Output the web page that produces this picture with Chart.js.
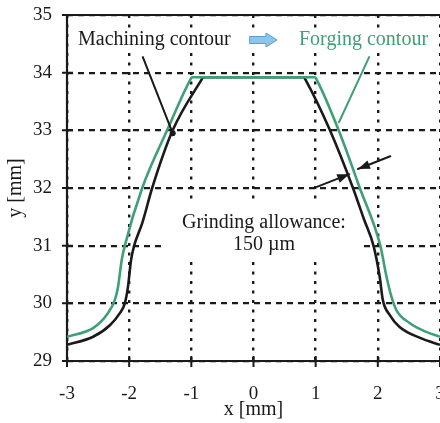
<!DOCTYPE html>
<html lang="en">
<head>
<meta charset="UTF-8">
<title>Machining and forging contour</title>
<script src="https://cdn.jsdelivr.net/npm/chart.js"></script>
<style>
  html, body { margin: 0; padding: 0; background: #fff; overflow: hidden; }
  canvas { display: block; }
</style>
</head>
<body>
<canvas id="contour" width="460" height="423"></canvas>
<script>
// axis ticks (mm)
const xTicks = [-3, -2, -1, 0, 1, 2, 3];
const yTicks = [29, 30, 31, 32, 33, 34, 35];

// machining contour (black)
const machX = [-3, -2.58, -2.31, -2.15, -2.07, -2.02, -1.97, -1.92, -1.79, -1.63, -1.3, -0.84, -0.81,
               0.81, 0.84, 1.23, 1.6, 1.78, 1.93, 2.03, 2.08, 2.19, 2.35, 2.68, 3];
const machY = [29.28, 29.42, 29.62, 29.83, 30.0, 30.28, 30.75, 31.0, 31.39, 32.0, 33.0, 33.87, 33.92,
               33.92, 33.87, 33.0, 32.0, 31.45, 31.0, 30.46, 30.06, 29.8, 29.59, 29.4, 29.28];

// forging contour (green)
const forgeX = [-3, -2.58, -2.36, -2.23, -2.18, -2.12, -2.07, -1.79, -1.39, -1.02, -0.99,
                0.99, 1.02, 1.37, 1.71, 2.04, 2.14, 2.22, 2.3, 2.51, 2.79, 3];
const forgeY = [29.42, 29.57, 29.8, 30.06, 30.28, 30.75, 31.0, 32.0, 33.0, 33.87, 33.92,
                33.92, 33.87, 33.0, 32.0, 31.0, 30.46, 30.11, 29.88, 29.66, 29.5, 29.42];

const GREEN = '#3f9f75';
const INK = '#1a1a1a';
const SERIF = '"Liberation Serif", "DejaVu Serif", serif';

const toPoints = (xs, ys) => xs.map((x, i) => ({ x: x, y: ys[i] }));

function arrowHead(ctx, x1, y1, x2, y2) {
  const ang = Math.atan2(y2 - y1, x2 - x1);
  const len = 12, w = 4.5;
  ctx.beginPath();
  ctx.moveTo(x2, y2);
  ctx.lineTo(x2 - len * Math.cos(ang) + w * Math.sin(ang), y2 - len * Math.sin(ang) - w * Math.cos(ang));
  ctx.lineTo(x2 - len * Math.cos(ang) - w * Math.sin(ang), y2 - len * Math.sin(ang) + w * Math.cos(ang));
  ctx.closePath();
  ctx.fill();
}

const overlay = {
  id: 'overlay',
  beforeDatasetsDraw(chart) {
    const { ctx, chartArea: a, scales: { x, y } } = chart;
    ctx.save();
    // white boxes behind the labels
    ctx.fillStyle = '#fff';
    ctx.fillRect(72, 28, 364, 22);
    ctx.fillRect(165, 203, 197, 59);

    // axes, top frame
    ctx.strokeStyle = INK;
    ctx.lineWidth = 2.2;
    ctx.beginPath();
    ctx.moveTo(a.left, a.top); ctx.lineTo(a.right, a.top);
    ctx.moveTo(a.left, a.top); ctx.lineTo(a.left, a.bottom);
    ctx.moveTo(a.left, a.bottom); ctx.lineTo(a.right, a.bottom);
    ctx.stroke();
    // cross ticks
    ctx.lineWidth = 2;
    ctx.beginPath();
    xTicks.forEach(v => {
      const px = x.getPixelForValue(v);
      ctx.moveTo(px, a.bottom - 5); ctx.lineTo(px, a.bottom + 6);
    });
    yTicks.forEach(v => {
      const py = y.getPixelForValue(v);
      ctx.moveTo(a.left - 5, py); ctx.lineTo(a.left + 6, py);
    });
    ctx.stroke();
    ctx.restore();
  },
  afterDatasetsDraw(chart) {
    const { ctx, scales: { x, y } } = chart;
    const P = (vx, vy) => [x.getPixelForValue(vx), y.getPixelForValue(vy)];
    ctx.save();
    ctx.lineCap = 'round';

    // pointer to machining contour
    let s = P(-1.78, 34.27), e = P(-1.3, 32.95);
    ctx.strokeStyle = INK; ctx.fillStyle = INK; ctx.lineWidth = 2;
    ctx.beginPath(); ctx.moveTo(s[0], s[1]); ctx.lineTo(e[0], e[1]); ctx.stroke();
    ctx.beginPath(); ctx.arc(e[0], e[1], 3, 0, Math.PI * 2); ctx.fill();

    // pointer to forging contour
    s = P(1.86, 34.27); e = P(1.375, 33.14);
    ctx.strokeStyle = GREEN; ctx.lineWidth = 2;
    ctx.beginPath(); ctx.moveTo(s[0], s[1]); ctx.lineTo(e[0], e[1]); ctx.stroke();

    // grinding allowance arrows
    ctx.strokeStyle = INK; ctx.fillStyle = INK; ctx.lineWidth = 2;
    [[P(1.02, 32.02), P(1.54, 32.24)], [P(2.2, 32.55), P(1.68, 32.33)]].forEach(([p, q]) => {
      ctx.beginPath(); ctx.moveTo(p[0], p[1]); ctx.lineTo(q[0], q[1]); ctx.stroke();
      arrowHead(ctx, p[0], p[1], q[0], q[1]);
    });

    // texts
    ctx.font = '20px ' + SERIF;
    ctx.textBaseline = 'middle';
    ctx.textAlign = 'left';
    ctx.fillStyle = INK;
    ctx.fillText('Machining contour', 78, 40);
    ctx.fillStyle = GREEN;
    ctx.fillText('Forging contour', 299, 40);
    ctx.fillStyle = INK;
    ctx.textAlign = 'center';
    ctx.fillText('Grinding allowance:', 264, 223);
    ctx.fillText('150 \u00b5m', 264, 245);

    // light blue arrow
    ctx.fillStyle = '#8cc6ec';
    ctx.strokeStyle = '#5a9fd0';
    ctx.lineWidth = 1;
    ctx.beginPath();
    ctx.moveTo(250, 36.5); ctx.lineTo(266, 36.5); ctx.lineTo(266, 33);
    ctx.lineTo(277, 40); ctx.lineTo(266, 47); ctx.lineTo(266, 43.5);
    ctx.lineTo(250, 43.5); ctx.closePath();
    ctx.fill(); ctx.stroke();
    ctx.restore();
  }
};

new Chart(document.getElementById('contour'), {
  type: 'scatter',
  data: {
    datasets: [
      {
        label: 'Forging contour',
        data: toPoints(forgeX, forgeY),
        showLine: true,
        borderColor: GREEN,
        borderWidth: 2.6,
        pointRadius: 0,
        cubicInterpolationMode: 'monotone'
      },
      {
        label: 'Machining contour',
        data: toPoints(machX, machY),
        showLine: true,
        borderColor: INK,
        borderWidth: 2.6,
        pointRadius: 0,
        cubicInterpolationMode: 'monotone'
      }
    ]
  },
  options: {
    responsive: false,
    animation: false,
    events: [],
    layout: { padding: { top: 15, right: 20, left: 0, bottom: 0 } },
    plugins: { legend: { display: false }, tooltip: { enabled: false } },
    scales: {
      x: {
        type: 'linear',
        min: -3, max: 3,
        afterBuildTicks: s => { s.ticks = xTicks.map(v => ({ value: v })); },
        afterFit: s => { s.height = 62; },
        grid: { color: INK, lineWidth: 2.4, drawTicks: true, tickLength: 22, tickColor: 'rgba(0,0,0,0)' },
        border: { display: false, dash: [3, 6.5] },
        ticks: { color: INK, padding: 0, font: { family: SERIF, size: 19 } },
        title: { display: true, text: 'x [mm]', color: INK, padding: { top: 0, bottom: 1 }, font: { family: SERIF, size: 20 } }
      },
      y: {
        type: 'linear',
        min: 29, max: 35,
        afterBuildTicks: s => { s.ticks = yTicks.map(v => ({ value: v })); },
        afterFit: s => { s.width = 67; },
        grid: { color: INK, lineWidth: 2.2, drawTicks: true, tickLength: 15, tickColor: 'rgba(0,0,0,0)' },
        border: { display: false, dash: [6, 5] },
        ticks: { color: INK, padding: 0, font: { family: SERIF, size: 19 } },
        title: { display: true, text: 'y [mm]', color: INK, padding: { top: 4, bottom: 0 }, font: { family: SERIF, size: 20 } }
      }
    }
  },
  plugins: [overlay]
});
</script>
</body>
</html>
